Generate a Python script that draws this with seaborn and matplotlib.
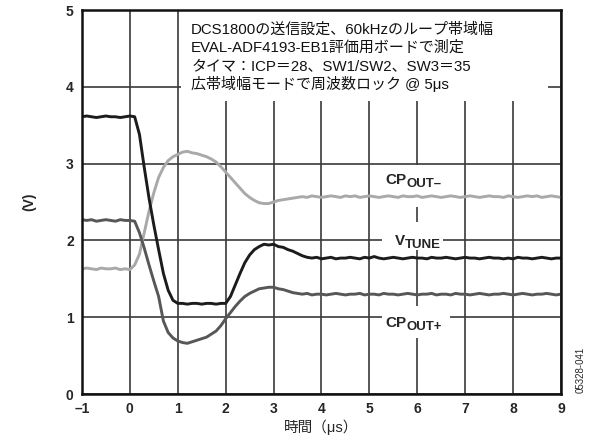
import numpy as np
import pandas as pd
import matplotlib
matplotlib.use("Agg")
import matplotlib.pyplot as plt
from matplotlib.patches import Rectangle
import seaborn as sns

# Scope sample times (µs)
time_us = [
    -1.0, -0.9, -0.8, -0.7, -0.6, -0.5, -0.4, -0.3, -0.2, -0.1,
    0.0, 0.1, 0.2, 0.3, 0.4, 0.5, 0.6, 0.7, 0.8, 0.9,
    1.0, 1.1, 1.2, 1.3, 1.4, 1.5, 1.6, 1.7, 1.8, 1.9,
    2.0, 2.1, 2.2, 2.3, 2.4, 2.5, 2.6, 2.7, 2.8, 2.9,
    3.0, 3.1, 3.2, 3.3, 3.4, 3.5, 3.6, 3.7, 3.8, 3.9,
    4.0, 4.1, 4.2, 4.3, 4.4, 4.5, 4.6, 4.7, 4.8, 4.9,
    5.0, 5.1, 5.2, 5.3, 5.4, 5.5, 5.6, 5.7, 5.8, 5.9,
    6.0, 6.1, 6.2, 6.3, 6.4, 6.5, 6.6, 6.7, 6.8, 6.9,
    7.0, 7.1, 7.2, 7.3, 7.4, 7.5, 7.6, 7.7, 7.8, 7.9,
    8.0, 8.1, 8.2, 8.3, 8.4, 8.5, 8.6, 8.7, 8.8, 8.9,
    9.0,
]

# Tuning voltage (V)
v_tune = [
    3.61, 3.62, 3.61, 3.60, 3.61, 3.62, 3.61, 3.61, 3.60, 3.61,
    3.62, 3.61, 3.38, 2.95, 2.55, 2.20, 1.88, 1.57, 1.35, 1.22,
    1.18, 1.18, 1.17, 1.18, 1.18, 1.17, 1.18, 1.18, 1.17, 1.18,
    1.18, 1.27, 1.42, 1.57, 1.71, 1.81, 1.88, 1.92, 1.95, 1.94,
    1.95, 1.92, 1.91, 1.88, 1.86, 1.83, 1.80, 1.78, 1.77, 1.78,
    1.76, 1.77, 1.78, 1.76, 1.77, 1.77, 1.78, 1.77, 1.76, 1.78,
    1.77, 1.79, 1.77, 1.76, 1.77, 1.78, 1.77, 1.76, 1.77, 1.78,
    1.77, 1.77, 1.76, 1.78, 1.77, 1.77, 1.78, 1.77, 1.76, 1.77,
    1.78, 1.77, 1.77, 1.76, 1.77, 1.78, 1.77, 1.77, 1.76, 1.77,
    1.76, 1.78, 1.77, 1.77, 1.76, 1.77, 1.78, 1.77, 1.76, 1.77,
    1.77,
]

# Charge pump negative output (V)
cp_out_minus = [
    1.63, 1.64, 1.63, 1.62, 1.64, 1.63, 1.63, 1.64, 1.62, 1.63,
    1.62, 1.68, 1.82, 2.10, 2.38, 2.62, 2.82, 2.95, 3.04, 3.09,
    3.12, 3.15, 3.16, 3.14, 3.13, 3.11, 3.09, 3.06, 3.02, 2.96,
    2.89, 2.82, 2.75, 2.68, 2.61, 2.56, 2.52, 2.49, 2.48, 2.48,
    2.50, 2.52, 2.53, 2.54, 2.55, 2.56, 2.57, 2.56, 2.58, 2.57,
    2.56, 2.57, 2.58, 2.57, 2.56, 2.58, 2.57, 2.58, 2.56, 2.57,
    2.58, 2.57, 2.56, 2.57, 2.58, 2.57, 2.56, 2.58, 2.57, 2.57,
    2.58, 2.56, 2.57, 2.58, 2.57, 2.56, 2.57, 2.58, 2.57, 2.56,
    2.57, 2.58, 2.57, 2.56, 2.57, 2.58, 2.57, 2.57, 2.56, 2.58,
    2.57, 2.56, 2.57, 2.58, 2.57, 2.58, 2.56, 2.57, 2.58, 2.57,
    2.56,
]

# Charge pump positive output (V)
cp_out_plus = [
    2.27, 2.26, 2.27, 2.25, 2.26, 2.27, 2.26, 2.25, 2.27, 2.26,
    2.26, 2.25, 2.10, 1.90, 1.68, 1.47, 1.27, 0.95, 0.80, 0.73,
    0.69, 0.67, 0.66, 0.68, 0.70, 0.72, 0.74, 0.78, 0.82, 0.89,
    0.98, 1.06, 1.14, 1.21, 1.27, 1.31, 1.34, 1.37, 1.38, 1.39,
    1.39, 1.37, 1.36, 1.34, 1.32, 1.31, 1.30, 1.31, 1.29, 1.30,
    1.30, 1.29, 1.30, 1.31, 1.30, 1.29, 1.30, 1.30, 1.31, 1.29,
    1.30, 1.30, 1.29, 1.31, 1.30, 1.30, 1.29, 1.30, 1.31, 1.30,
    1.29, 1.30, 1.30, 1.31, 1.29, 1.30, 1.30, 1.29, 1.31, 1.30,
    1.30, 1.29, 1.30, 1.31, 1.30, 1.29, 1.30, 1.30, 1.31, 1.30,
    1.29, 1.30, 1.31, 1.30, 1.29, 1.30, 1.30, 1.31, 1.30, 1.29,
    1.30,
]

x_ticks = [-1, 0, 1, 2, 3, 4, 5, 6, 7, 8, 9]
y_ticks = [0, 1, 2, 3, 4, 5]

note_lines = [
    "DCS1800の送信設定、60kHzのループ帯域幅",
    "EVAL-ADF4193-EB1評価用ボードで測定",
    "タイマ：ICP＝28、SW1/SW2、SW3＝35",
    "広帯域幅モードで周波数ロック @ 5μs",
]

# Trace names: (main, subscript)
trace_names = [("CP", "OUT\u2013"), ("V", "TUNE"), ("CP", "OUT+")]

sns.set_style("white")
plt.rcParams["font.family"] = ["Liberation Sans", "Noto Sans CJK JP", "DejaVu Sans"]
plt.rcParams["axes.unicode_minus"] = True

df = pd.DataFrame({
    "t": time_us * 3,
    "v": cp_out_minus + v_tune + cp_out_plus,
    "trace": ["cpm"] * len(time_us) + ["vtune"] * len(time_us) + ["cpp"] * len(time_us),
})

fig = plt.figure(figsize=(5.91, 4.43), dpi=100)
ax = fig.add_axes([0.1387, 0.1106, 0.9492 - 0.1387, 0.9774 - 0.1106])

sns.lineplot(
    data=df, x="t", y="v", hue="trace",
    palette={"cpm": "#a9a9a9", "vtune": "#1c1c1c", "cpp": "#575757"},
    linewidth=2.1, legend=False, ax=ax, zorder=3,
)

ax.set_xlim(-1, 9)
ax.set_ylim(0, 5)
ax.set_xticks(x_ticks)
ax.set_yticks(y_ticks)
ax.set_xticklabels([f"{v}".replace("-", "\u2013") for v in x_ticks])
ax.tick_params(axis="both", length=0, labelsize=10, pad=6)
for lab in ax.get_xticklabels() + ax.get_yticklabels():
    lab.set_fontweight("bold")

ax.grid(True, color="#3a3a3a", linewidth=1.2, zorder=0)
ax.set_axisbelow(True)
for sp in ax.spines.values():
    sp.set_color("#111111")
    sp.set_linewidth(1.8)
    sp.set_zorder(5)

# White panel behind the measurement notes
ax.add_patch(Rectangle((1.07, 3.81), 8.73 - 1.07, 1.3, facecolor="white",
                       edgecolor="none", zorder=1))
note_base = [4.69, 4.455, 4.21, 3.965]
for txt, yy in zip(note_lines, note_base):
    ax.text(1.28, yy, txt, fontsize=10.8, va="baseline", ha="left", zorder=2,
            color="#111111")

# White patches behind the trace names
for (x0, x1, y0, y1) in [(5.26, 6.68, 2.44, 2.98), (5.26, 6.53, 1.88, 2.24),
                         (5.26, 6.68, 0.73, 1.14)]:
    ax.add_patch(Rectangle((x0, y0), x1 - x0, y1 - y0, facecolor="white",
                           edgecolor="none", zorder=1))

name_pos = [(5.78, 2.74, 2.69), (5.74, 1.94, 1.895), (5.78, 0.877, 0.83)]
for (main, sub), (xs, yb, ysb) in zip(trace_names, name_pos):
    ax.text(xs, yb, main, fontsize=11, fontweight="bold", ha="right",
            va="baseline", zorder=2)
    ax.text(xs, ysb, sub, fontsize=9.5, fontweight="bold", ha="left",
            va="baseline", zorder=2)

ax.set_xlabel("時間（μs）", fontsize=10.5, labelpad=2)
ax.set_ylabel("(V)", fontsize=10, fontweight="bold", labelpad=21)

fig.text(0.983, 0.165, "05328-041", rotation=90, fontsize=7,
         ha="center", va="center", transform=fig.transFigure)

fig.savefig("out.png", dpi=100)
